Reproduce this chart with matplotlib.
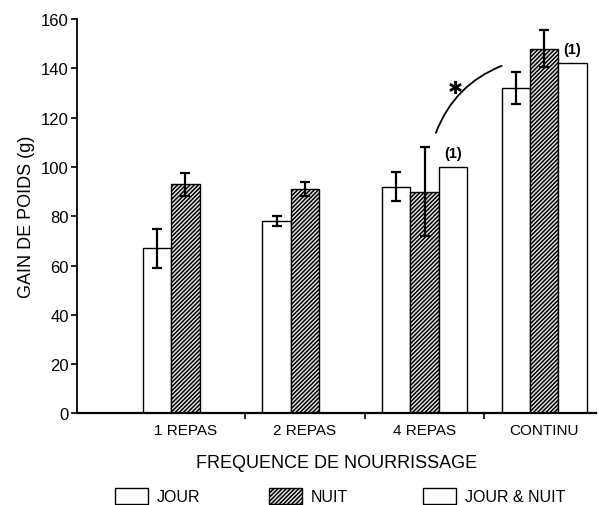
import numpy as np
import matplotlib
matplotlib.use("Agg")
import matplotlib.pyplot as plt
from matplotlib.patches import Patch

plt.rcParams['font.family'] = ['Liberation Sans', 'DejaVu Sans']
plt.rcParams['hatch.linewidth'] = 1.1

categories = ["1 REPAS", "2 REPAS", "4 REPAS", "CONTINU"]
jour = [67, 78, 92, 132]
jour_err = [8, 2, 6, 6.5]
nuit = [93, 91, 90, 148]
nuit_err = [4.7, 3, 18, 7.5]
jour_nuit = [np.nan, np.nan, 100, 142]
jn_labels = ["", "", "(1)", "(1)"]
series_names = ["JOUR", "NUIT", "JOUR & NUIT"]
yticks = [0, 20, 40, 60, 80, 100, 120, 140, 160]

W, H = 599, 506
fig = plt.figure(figsize=(W / 100, H / 100), dpi=100)
ax = fig.add_axes([0.1285, 0.181, 0.866, 0.7795])

x = np.arange(len(categories))
w = 0.237
ekw = dict(ecolor='black', elinewidth=1.6, capsize=3.5, capthick=1.6)
ax.bar(x - w, jour, w, color='white', edgecolor='black', linewidth=1.0,
       yerr=jour_err, error_kw=ekw, zorder=2)
ax.bar(x, nuit, w, color='#e8e8e8', edgecolor='black', linewidth=1.0, hatch='////////',
       yerr=nuit_err, error_kw=ekw, zorder=2)
ax.bar(x + w, jour_nuit, w, color='white', edgecolor='black', linewidth=1.0, zorder=2)
for xi, v, lab in zip(x, jour_nuit, jn_labels):
    if lab:
        ax.text(xi + w, v + 3, lab, ha='center', va='bottom', fontsize=10.5,
                fontweight='bold')

# significance arc and asterisk
ax.annotate("", xy=(2.644, 141), xytext=(2.094, 113.8),
            arrowprops=dict(arrowstyle='-', color='black', lw=1.3,
                            connectionstyle='arc3,rad=-0.22', shrinkA=0, shrinkB=0))
ax.text(2.26, 132, "✱", ha='center', va='center', fontsize=13,
        family=['DejaVu Sans'])

ax.set_xlim(-0.906, 3.43)
ax.set_ylim(0, 160)
ax.set_yticks(yticks)
ax.set_xticks([0.5, 1.5, 2.5])
ax.set_xticklabels([])
ax.set_xticks(x, minor=True)
ax.set_xticklabels(categories, minor=True, fontsize=11)
ax.tick_params(axis='x', which='major', direction='out', length=4, width=1.2)
ax.tick_params(axis='x', which='minor', length=0, pad=7)
ax.tick_params(axis='y', direction='out', length=4, width=1.2, labelsize=12, pad=2)
for s in ['top', 'right']:
    ax.spines[s].set_visible(False)
ax.spines['left'].set_linewidth(1.3)
ax.spines['bottom'].set_linewidth(1.6)

ax.set_ylabel("GAIN DE POIDS (g)", fontsize=13, labelpad=4)
ax.set_xlabel("FREQUENCE DE NOURRISSAGE", fontsize=13, labelpad=12)

hatches = [None, '////////', None]
faces = ['white', '#e8e8e8', 'white']
starts_px = [115, 269, 423]
fs = 11.5
em = fs * 100 / 72
for name, h, fc, xs in zip(series_names, hatches, faces, starts_px):
    p = Patch(facecolor=fc, edgecolor='black', hatch=h, label=name)
    fig.legend(handles=[p], loc='center left', bbox_to_anchor=(xs / W, 1 - 497 / H),
               frameon=False, fontsize=fs, borderpad=0, borderaxespad=0,
               handlelength=33 / em, handleheight=18 / em, handletextpad=9 / em)

fig.savefig("out.png", dpi=100)
